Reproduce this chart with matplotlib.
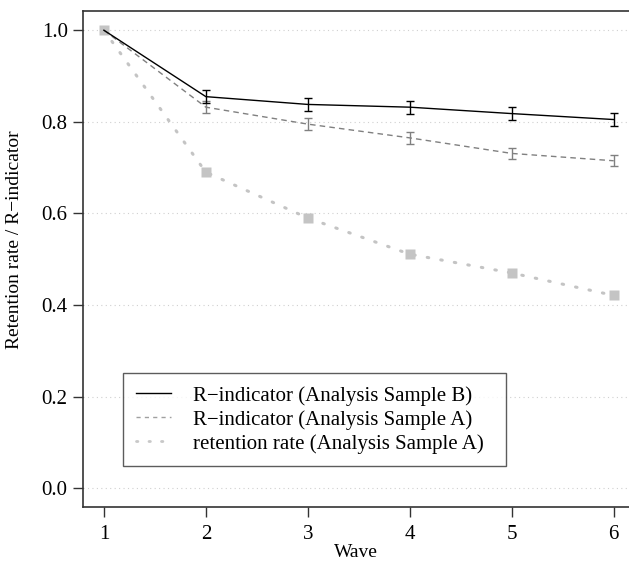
import matplotlib.pyplot as plt
import numpy as np

plt.rcParams['font.family'] = ['Liberation Serif', 'DejaVu Serif']

waves = [1, 2, 3, 4, 5, 6]
r_ind_b = [1.0, 0.855, 0.838, 0.832, 0.818, 0.805]
r_ind_b_err = [0.0, 0.014, 0.014, 0.0145, 0.0145, 0.015]
r_ind_a = [1.0, 0.832, 0.795, 0.765, 0.731, 0.715]
r_ind_a_err = [0.0, 0.013, 0.013, 0.0125, 0.0125, 0.012]
retention = [1.0, 0.690, 0.590, 0.511, 0.470, 0.421]

fig = plt.figure(figsize=(6.29, 5.63), dpi=100)
ax = fig.add_axes([83 / 629, 1 - 507 / 563, 1 - 83 / 629, (507 - 11) / 563])

for yv in np.arange(0, 1.01, 0.2):
    ax.axhline(yv, color='#d0d0d0', lw=0.8, ls=(0, (1, 3)), zorder=0)

ax.plot(waves, retention, color='#c4c4c4', lw=2.2, ls=(0, (0.5, 4)),
        dash_capstyle='round', zorder=1)
ax.plot(waves, retention, 's', color='#c4c4c4', ms=7, mec='none', zorder=2)

ax.errorbar(waves[1:], r_ind_a[1:], yerr=r_ind_a_err[1:], fmt='none',
            ecolor='#808080', elinewidth=1.0, capsize=3, capthick=1.0, zorder=3)
ax.plot(waves, r_ind_a, color='#808080', lw=1.0, ls=(0, (4, 3)), zorder=3)

ax.errorbar(waves[1:], r_ind_b[1:], yerr=r_ind_b_err[1:], fmt='none',
            ecolor='black', elinewidth=1.0, capsize=3, capthick=1.0, zorder=4)
ax.plot(waves, r_ind_b, color='black', lw=1.0, zorder=4)

ax.set_xlim(0.795, 6.15)
ax.set_ylim(-0.041, 1.042)
ax.set_xticks(waves)
ax.set_yticks(np.arange(0, 1.01, 0.2))
ax.set_yticklabels([f'{v:.1f}' for v in np.arange(0, 1.01, 0.2)])
ax.tick_params(direction='out', length=7, width=1, labelsize=15, pad=4,
               color='#333333')
ax.tick_params(axis='x', pad=6)
ax.spines['right'].set_visible(False)
for side in ['left', 'bottom', 'top']:
    ax.spines[side].set_linewidth(1.2)
    ax.spines[side].set_color('#333333')

ax.set_xlabel('Wave', fontsize=14)
ax.set_ylabel('Retention rate / R\u2212indicator', fontsize=14)
ax.xaxis.set_label_coords(0.5, -37 / 496)
ax.yaxis.set_label_coords(-60 / 546, 0.538)

h1, = ax.plot([], [], color='black', lw=1.0)
h2, = ax.plot([], [], color='#a0a0a0', lw=1.0, ls=(0, (3, 3)))
h3, = ax.plot([], [], color='#c8c8c8', lw=2.0, ls=(0, (0.5, 4)), dash_capstyle='round')
leg = ax.legend([h1, h2, h3],
                ['R\u2212indicator (Analysis Sample B)',
                 'R\u2212indicator (Analysis Sample A)',
                 'retention rate (Analysis Sample A)'],
                loc='lower left', bbox_to_anchor=(40 / 546, 41 / 496, 383 / 546, 93 / 496),
                mode='expand', fontsize=15, frameon=True, fancybox=False,
                edgecolor='#333333', handlelength=1.7, handletextpad=1.05,
                labelspacing=0.2, borderpad=0.6, borderaxespad=0)
leg.get_frame().set_linewidth(1.0)

fig.savefig('out.png', dpi=100)
